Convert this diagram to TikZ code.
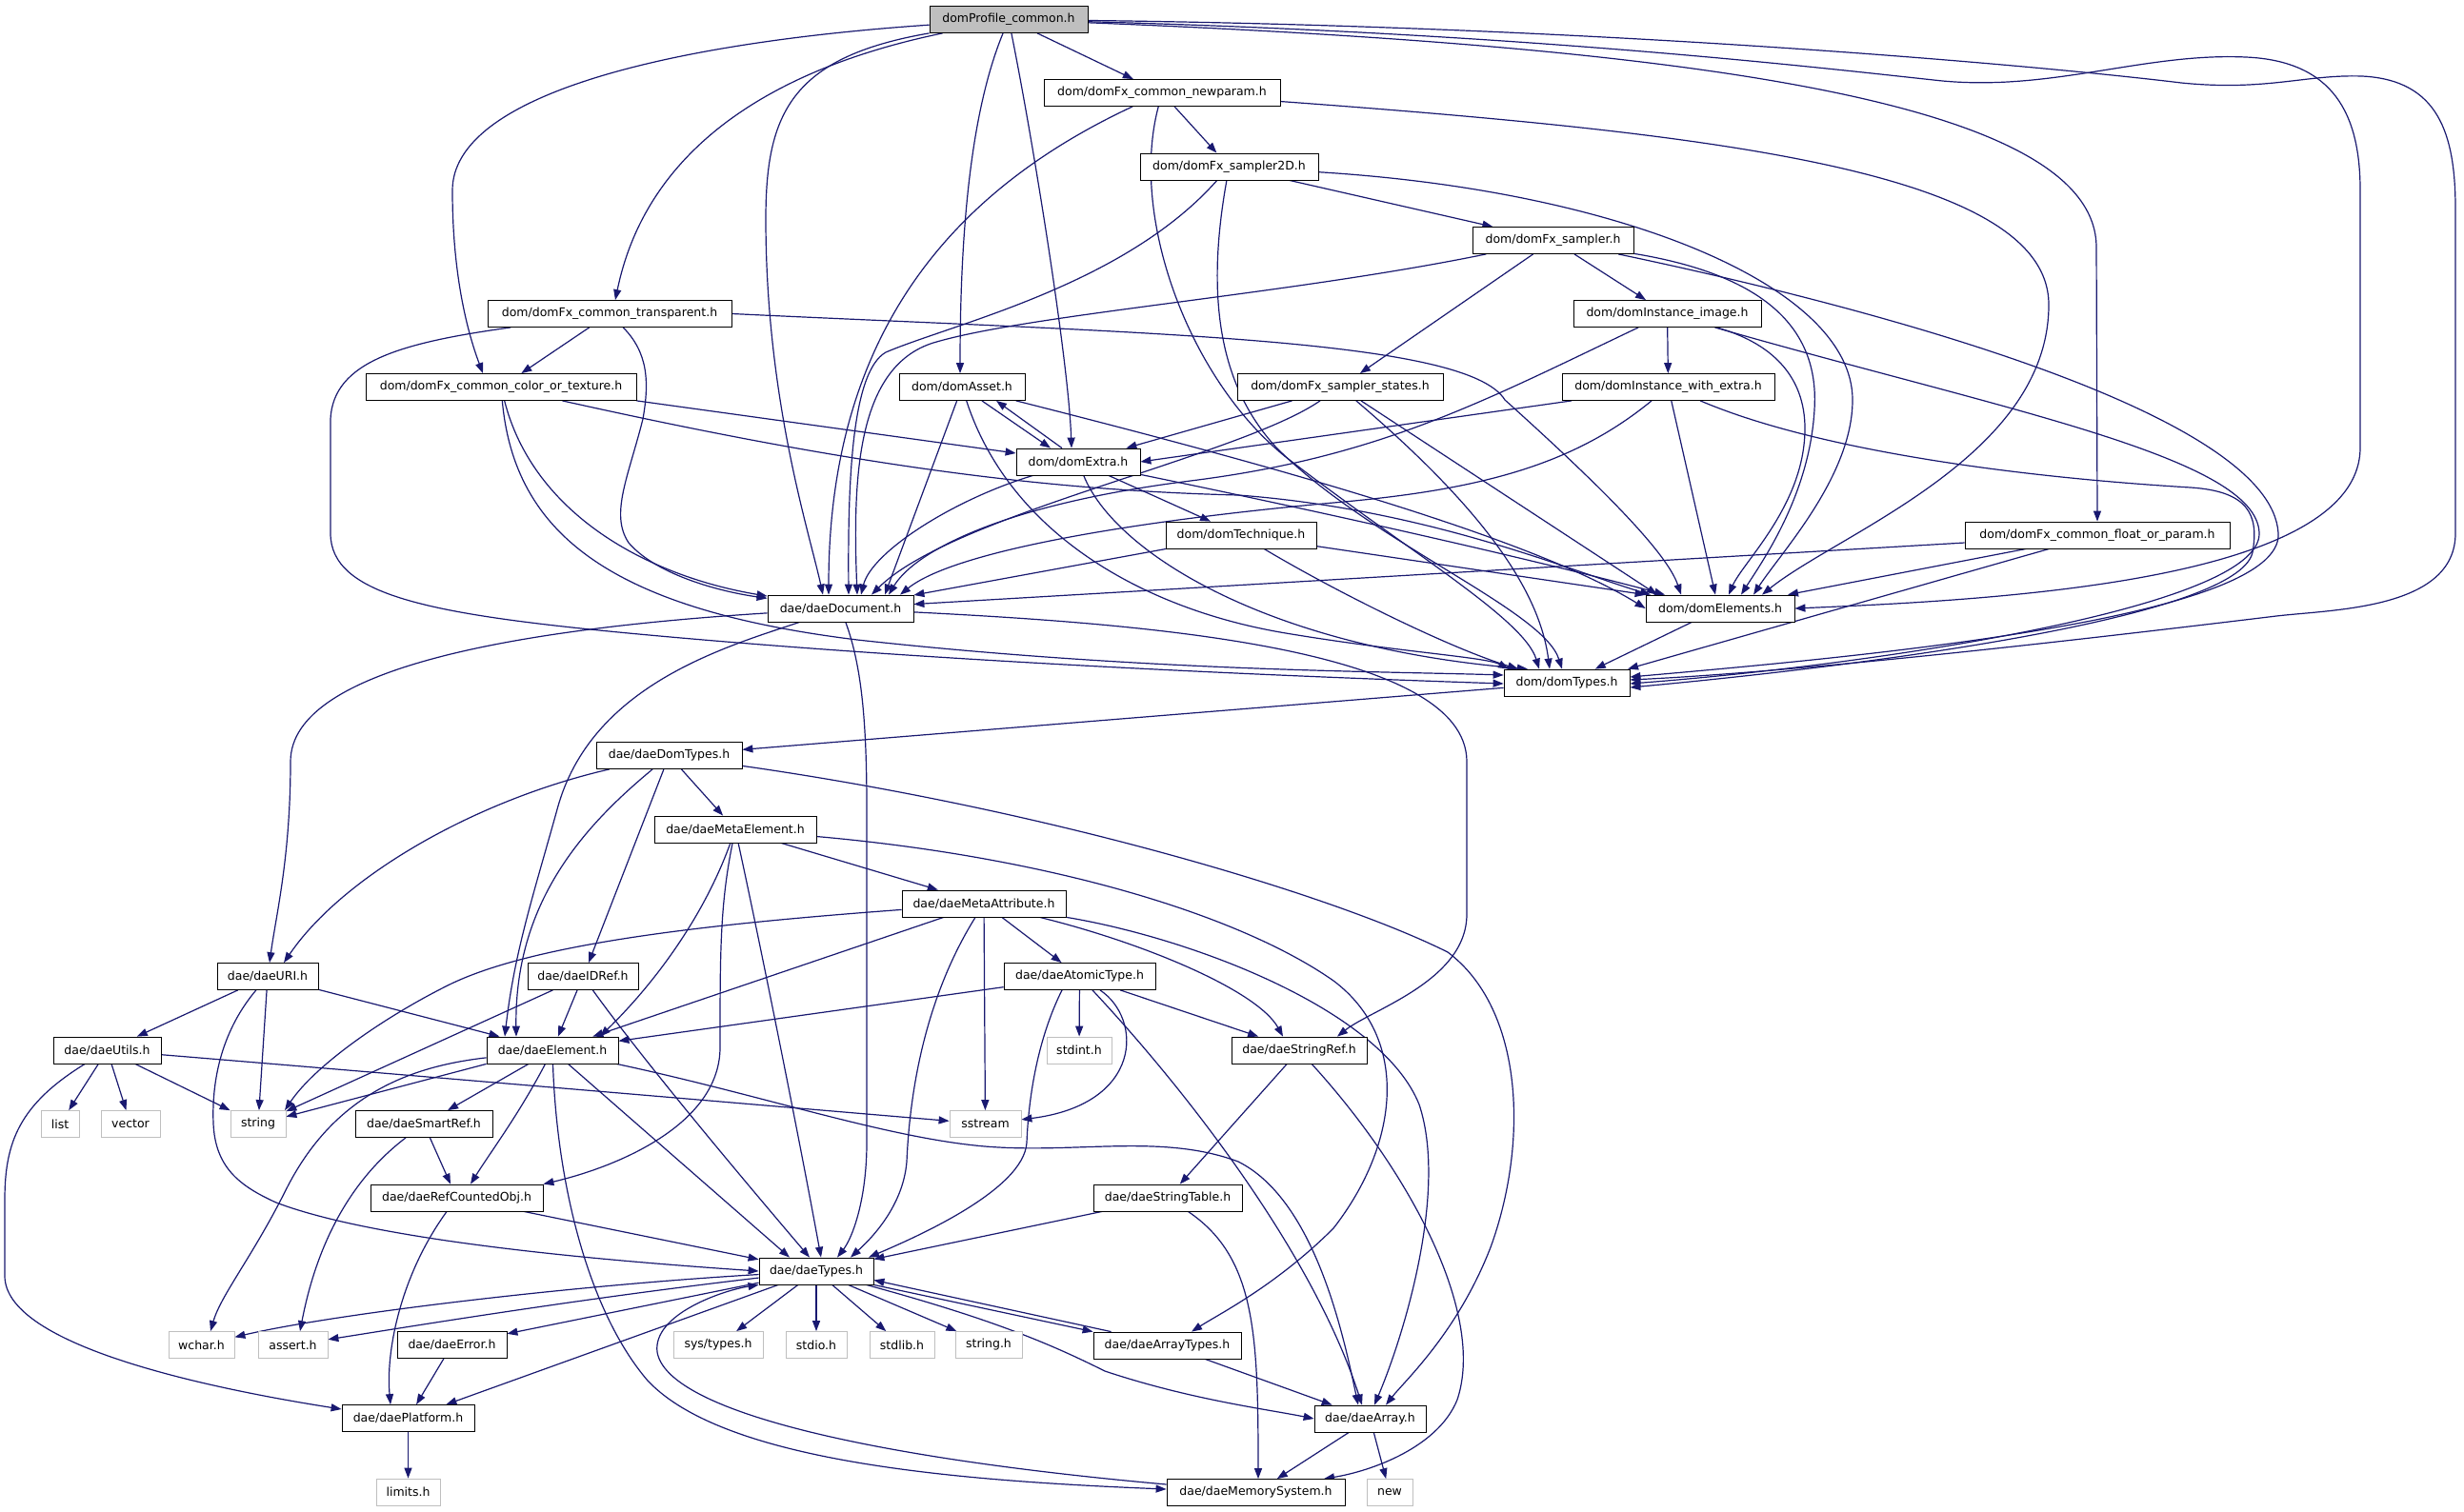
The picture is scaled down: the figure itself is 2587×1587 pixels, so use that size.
\documentclass[tikz,border=0pt]{standalone}
\usepackage{fontspec}
\newfontfamily\dvs{DejaVu Sans}
\usetikzlibrary{arrows.meta,calc,backgrounds}
\definecolor{edgec}{HTML}{191970}
\definecolor{extc}{HTML}{BFBFBF}
\definecolor{topc}{HTML}{BFBFBF}
\begin{document}
\begin{tikzpicture}[x=1pt,y=-1pt]
\tikzset{
 nb/.style={draw=black, fill=white, line width=0.8pt, minimum height=28pt, inner sep=1pt, font=\dvs\fontsize{12.5}{15}\selectfont},
 ext/.style={nb, draw=extc},
 topn/.style={nb, fill=topc},
 edg/.style={draw=edgec, line width=1.2pt, -{Triangle[length=11pt,width=8pt]}},
}
\useasboundingbox (0,0) rectangle (2587,1587);
% nodes
\node[topn, minimum width=166pt] (T) at (1059,20.5) {domProfile\_common.h};
\node[nb, minimum width=248pt] (np) at (1220,97.5) {dom/domFx\_common\_newparam.h};
\node[nb, minimum width=187pt] (s2d) at (1290.5,175) {dom/domFx\_sampler2D.h};
\node[nb, minimum width=256pt] (tr) at (640,329.5) {dom/domFx\_common\_transparent.h};
\node[nb, minimum width=284pt] (cot) at (526,406.5) {dom/domFx\_common\_color\_or\_texture.h};
\node[nb, minimum width=132pt] (as) at (1010,406.5) {dom/domAsset.h};
\node[nb, minimum width=169pt] (sa) at (1630.5,252.5) {dom/domFx\_sampler.h};
\node[nb, minimum width=197pt] (ii) at (1750.5,329.5) {dom/domInstance\_image.h};
\node[nb, minimum width=216pt] (ss) at (1407,406.5) {dom/domFx\_sampler\_states.h};
\node[nb, minimum width=223pt] (iwe) at (1751.5,406.5) {dom/domInstance\_with\_extra.h};
\node[nb, minimum width=130pt] (ex) at (1132,485) {dom/domExtra.h};
\node[nb, minimum width=158pt] (te) at (1303,562) {dom/domTechnique.h};
\node[nb, minimum width=153pt] (doc) at (882.5,639) {dae/daeDocument.h};
\node[nb, minimum width=278pt] (fop) at (2202,562) {dom/domFx\_common\_float\_or\_param.h};
\node[nb, minimum width=156pt] (el) at (1806,639) {dom/domElements.h};
\node[nb, minimum width=132pt] (dt) at (1645,717) {dom/domTypes.h};
\node[nb, minimum width=153pt] (ddt) at (702.5,793.5) {dae/daeDomTypes.h};
\node[nb, minimum width=170pt] (me) at (772,871) {dae/daeMetaElement.h};
\node[nb, minimum width=172pt] (ma) at (1033,949) {dae/daeMetaAttribute.h};
\node[nb, minimum width=106pt] (uri) at (281,1025.5) {dae/daeURI.h};
\node[nb, minimum width=116pt] (idr) at (612,1025.5) {dae/daeIDRef.h};
\node[nb, minimum width=159pt] (atom) at (1133.5,1025.5) {dae/daeAtomicType.h};
\node[nb, minimum width=113pt] (ut) at (112.5,1103) {dae/daeUtils.h};
\node[nb, minimum width=138pt] (ele) at (580,1103) {dae/daeElement.h};
\node[ext, minimum width=68pt] (stdint) at (1133,1103) {stdint.h};
\node[nb, minimum width=142pt] (sr) at (1364,1103) {dae/daeStringRef.h};
\node[ext, minimum width=40pt] (list) at (63,1180.5) {list};
\node[ext, minimum width=62pt] (vector) at (137,1180.5) {vector};
\node[ext, minimum width=58pt] (string) at (271,1180.5) {string};
\node[nb, minimum width=144pt] (smr) at (445,1180.5) {dae/daeSmartRef.h};
\node[ext, minimum width=75pt] (sstream) at (1034.5,1180.5) {sstream};
\node[nb, minimum width=181pt] (rco) at (479.5,1258) {dae/daeRefCountedObj.h};
\node[nb, minimum width=156pt] (st) at (1226,1258) {dae/daeStringTable.h};
\node[nb, minimum width=120pt] (ty) at (857,1335) {dae/daeTypes.h};
\node[ext, minimum width=69pt] (wchar) at (211.5,1412.5) {wchar.h};
\node[ext, minimum width=73pt] (assert) at (307.5,1412.5) {assert.h};
\node[nb, minimum width=115pt] (err) at (474.5,1412.5) {dae/daeError.h};
\node[ext, minimum width=94pt] (systypes) at (754,1412.5) {sys/types.h};
\node[ext, minimum width=64pt] (stdio) at (857,1412.5) {stdio.h};
\node[ext, minimum width=68pt] (stdlib) at (947,1412.5) {stdlib.h};
\node[ext, minimum width=70pt] (stringh) at (1038,1412.5) {string.h};
\node[nb, minimum width=155pt] (aty) at (1225.5,1413) {dae/daeArrayTypes.h};
\node[nb, minimum width=139pt] (pl) at (428.5,1489.5) {dae/daePlatform.h};
\node[nb, minimum width=117pt] (arr) at (1438.5,1490) {dae/daeArray.h};
\node[ext, minimum width=67pt] (limits) at (428.5,1567) {limits.h};
\node[nb, minimum width=187pt] (ms) at (1318.5,1567.5) {dae/daeMemorySystem.h};
\node[ext, minimum width=48pt] (new) at (1459,1567.5) {new};

\begin{pgfonlayer}{background}
\fill[white] (0,0) rectangle (2587,1587);
% domProfile_common.h
\draw[edg] (T) -- (np);
\draw[edg] (T) .. controls (820,70) and (680,150) .. (646,0 |- tr.north);
\draw[edg] (T) .. controls (700,45) and (475,100) .. (475,200) .. controls (475,300) and (495,360) .. (507,0 |- cot.north);
\draw[edg] (T) .. controls (830,60) and (804,120) .. (804,230) .. controls (804,420) and (850,560) .. (864,0 |- doc.north);
\draw[edg] (T) .. controls (1018,120) and (1008,250) .. (1008,0 |- as.north);
\draw[edg] (T) .. controls (1085,150) and (1122,380) .. (1125,0 |- ex.north);
\draw[edg] (T) .. controls (1800,50) and (2201,110) .. (2201,260) -- (2202,0 |- fop.north);
\draw[edg] (T) .. controls (1600,35) and (1900,70) .. (2030,84) .. controls (2150,98) and (2250,55) .. (2358,60) .. controls (2450,64) and (2478,120) .. (2478,200) -- (2478,470) .. controls (2478,610) and (2100,630) .. (el.east);
\draw[edg] (T) .. controls (1700,28) and (2150,70) .. (2290,87) .. controls (2380,96) and (2420,78) .. (2480,80) .. controls (2560,84) and (2578,140) .. (2578,220) -- (2578,560) .. controls (2578,640) and (2450,640) .. (2390,647) .. controls (2200,670) and (1900,705) .. (dt.east |- 0,714);
% newparam
\draw[edg] (np) -- (s2d);
\draw[edg] (np) .. controls (1000,200) and (870,350) .. (870,0 |- doc.north);
\draw[edg] (np) .. controls (1185,230) and (1250,400) .. (1350,480) .. controls (1480,580) and (1600,650) .. (1616,0 |- dt.north);
\draw[edg] (np) .. controls (1800,140) and (2151,180) .. (2151,320) .. controls (2151,480) and (1930,560) .. (1850,0 |- el.north);
% sampler2D
\draw[edg] (s2d) -- (sa);
\draw[edg] (s2d) .. controls (1180,300) and (1000,340) .. (930,370) .. controls (895,390) and (890,500) .. (891,0 |- doc.north);
\draw[edg] (s2d) .. controls (1268,300) and (1275,400) .. (1340,470) .. controls (1440,570) and (1620,640) .. (1640,0 |- dt.north);
\draw[edg] (s2d) .. controls (1700,200) and (1945,300) .. (1945,420) .. controls (1945,500) and (1870,580) .. (1841,0 |- el.north);
% sampler
\draw[edg] (sa) .. controls (1350,310) and (1080,330) .. (980,360) .. controls (900,385) and (895,500) .. (900,0 |- doc.north);
\draw[edg] (sa) -- (ss);
\draw[edg] (sa) -- (ii);
\draw[edg] (sa) .. controls (1860,290) and (1910,350) .. (1905,430) .. controls (1900,520) and (1850,590) .. (1828,0 |- el.north);
\draw[edg] (sa) .. controls (2000,330) and (2385,440) .. (2392,560) .. controls (2398,650) and (1950,690) .. (dt.east |- 0,711);
% instance_image
\draw[edg] (ii) -- (iwe);
\draw[edg] (ii) .. controls (1560,420) and (1450,480) .. (1250,505) .. controls (1050,530) and (960,580) .. (933,0 |- doc.north);
\draw[edg] (ii) .. controls (1860,360) and (1895,395) .. (1895,450) .. controls (1895,530) and (1830,590) .. (1815,0 |- el.north);
\draw[edg] (ii) .. controls (2100,430) and (2370,480) .. (2372,560) .. controls (2374,640) and (1950,700) .. (dt.east |- 0,718);
% instance_with_extra
\draw[edg] (iwe) -- (ex.east);
\draw[edg] (iwe) .. controls (1650,490) and (1550,515) .. (1400,528) .. controls (1180,548) and (1000,580) .. (945,0 |- doc.north);
\draw[edg] (iwe) -- (1801,0 |- el.north);
\draw[edg] (iwe) .. controls (1900,470) and (2100,500) .. (2300,512) .. controls (2360,516) and (2372,540) .. (2365,580) .. controls (2350,650) and (1950,700) .. (dt.east |- 0,722);
% sampler_states
\draw[edg] (ss) -- (ex);
\draw[edg] (ss) .. controls (1300,480) and (1000,540) .. (915,0 |- doc.north);
\draw[edg] (ss) -- (1740,0 |- el.north);
\draw[edg] (ss) .. controls (1540,520) and (1615,610) .. (1627,0 |- dt.north);
% float_or_param
\draw[edg] (fop) -- (doc);
\draw[edg] (fop) -- (1877,0 |- el.north);
\draw[edg] (fop) -- (1709,0 |- dt.north);
% domAsset
\draw[edg] (as) -- (1103,0 |- ex.north);
\draw[edg] (1115,0 |- ex.north) -- (1046,0 |- as.south);
\draw[edg] (as) -- (929,0 |- doc.north);
\draw[edg] (as) .. controls (1300,480) and (1600,560) .. (el.west);
\draw[edg] (as) .. controls (1060,560) and (1200,640) .. (1350,665) .. controls (1470,685) and (1560,690) .. (1584,0 |- dt.north);
% domExtra
\draw[edg] (ex) .. controls (1000,525) and (915,580) .. (904,0 |- doc.north);
\draw[edg] (ex) -- (te);
\draw[edg] (ex) .. controls (1400,540) and (1620,590) .. (1748,0 |- el.north);
\draw[edg] (ex) .. controls (1170,580) and (1330,680) .. (1604,0 |- dt.north);
% domTechnique
\draw[edg] (te) -- (doc);
\draw[edg] (te) -- (el.north west);
\draw[edg] (te) .. controls (1400,620) and (1520,680) .. (1594,0 |- dt.north);
% color_or_texture
\draw[edg] (cot.south east) -- (ex);
\draw[edg] (cot) .. controls (560,540) and (680,605) .. (doc);
\draw[edg] (cot) .. controls (900,490) and (1100,515) .. (1300,520) .. controls (1500,535) and (1650,600) .. (1733,0 |- el.north);
\draw[edg] (cot) .. controls (540,560) and (640,640) .. (900,672) .. controls (1200,705) and (1450,705) .. (dt.west |- 0,709);
% transparent
\draw[edg] (tr) -- (cot);
\draw[edg] (tr) .. controls (680,370) and (682,400) .. (675,440) .. controls (660,500) and (640,540) .. (660,570) .. controls (690,605) and (760,622) .. (doc);
\draw[edg] (tr) .. controls (420,360) and (350,380) .. (347,440) -- (347,560) .. controls (347,625) and (450,645) .. (660,665) .. controls (1000,697) and (1400,712) .. (dt.west |- 0,718);
\draw[edg] (tr.east) .. controls (1200,350) and (1540,355) .. (1580,420) .. controls (1680,510) and (1750,580) .. (1765,0 |- el.north);
% daeDocument
\draw[edg] (doc) .. controls (550,660) and (305,700) .. (305,800) .. controls (305,900) and (290,960) .. (uri);
\draw[edg] (doc) .. controls (760,680) and (620,720) .. (585,850) .. controls (560,940) and (540,1000) .. (530,0 |- ele.north);
\draw[edg] (doc) .. controls (905,700) and (910,760) .. (910,850) -- (910,1200) .. controls (910,1260) and (895,1300) .. (879,0 |- ty.north);
\draw[edg] (doc) .. controls (1200,655) and (1540,680) .. (1540,800) -- (1540,960) .. controls (1540,1030) and (1440,1060) .. (1404,0 |- sr.north);
% domElements, domTypes
\draw[edg] (el) -- (dt);
\draw[edg] (dt) -- (ddt);
% daeDomTypes
\draw[edg] (ddt) .. controls (500,840) and (360,920) .. (298,0 |- uri.north);
\draw[edg] (ddt) .. controls (610,870) and (540,950) .. (542,0 |- ele.north);
\draw[edg] (ddt) -- (618,0 |- idr.north);
\draw[edg] (ddt) -- (me);
\draw[edg] (ddt) .. controls (1100,850) and (1400,940) .. (1520,1000) .. controls (1600,1060) and (1605,1200) .. (1565,1310) .. controls (1530,1400) and (1475,1450) .. (1455,0 |- arr.north);
% daeMetaElement
\draw[edg] (me) -- (ma);
\draw[edg] (me) .. controls (740,960) and (690,1030) .. (630,0 |- ele.north);
\draw[edg] (me) .. controls (756,950) and (756,1000) .. (756,1100) .. controls (756,1180) and (650,1225) .. (rco.north east);
\draw[edg] (me) .. controls (800,1000) and (840,1200) .. (862,0 |- ty.north);
\draw[edg] (me) .. controls (1100,900) and (1300,960) .. (1400,1030) .. controls (1480,1090) and (1470,1200) .. (1400,1290) .. controls (1340,1350) and (1280,1380) .. (1251,0 |- aty.north);
% daeMetaAttribute
\draw[edg] (ma) .. controls (750,970) and (560,990) .. (470,1035) .. controls (400,1070) and (330,1120) .. (299,0 |- string.north);
\draw[edg] (ma) -- (ele);
\draw[edg] (ma) .. controls (970,1050) and (955,1150) .. (952,1220) .. controls (948,1270) and (910,1305) .. (893,0 |- ty.north);
\draw[edg] (ma) -- (sstream);
\draw[edg] (ma) -- (atom);
\draw[edg] (ma) .. controls (1200,990) and (1320,1040) .. (1347,0 |- sr.north);
\draw[edg] (ma) .. controls (1250,985) and (1450,1060) .. (1490,1160) .. controls (1520,1250) and (1475,1400) .. (1443,0 |- arr.north);
% daeAtomicType
\draw[edg] (atom) -- (ele);
\draw[edg] (atom) -- (stdint);
\draw[edg] (atom) .. controls (1200,1070) and (1200,1160) .. (sstream);
\draw[edg] (1115,0 |- atom.south) .. controls (1090,1090) and (1080,1150) .. (1078,1200) .. controls (1075,1250) and (960,1300) .. (912,0 |- ty.north);
\draw[edg] (atom) -- (sr);
\draw[edg] (atom) .. controls (1250,1150) and (1380,1320) .. (1430,0 |- arr.north);
% daeURI
\draw[edg] (uri) -- (ut);
\draw[edg] (uri) -- (string);
\draw[edg] (uri) -- (ele);
\draw[edg] (uri) .. controls (235,1080) and (222,1130) .. (224,1180) .. controls (226,1225) and (250,1245) .. (290,1263) .. controls (400,1305) and (650,1325) .. (ty.west);
% daeIDRef
\draw[edg] (idr) -- (string);
\draw[edg] (idr) -- (ele);
\draw[edg] (idr) .. controls (680,1120) and (790,1250) .. (850,0 |- ty.north);
% daeUtils
\draw[edg] (ut) -- (list);
\draw[edg] (ut) -- (vector);
\draw[edg] (ut) -- (string);
\draw[edg] (ut) .. controls (500,1135) and (850,1165) .. (sstream);
\draw[edg] (ut) .. controls (20,1160) and (5,1200) .. (5,1260) -- (5,1340) .. controls (5,1410) and (200,1455) .. (pl.west |- 0,1480);
% daeElement
\draw[edg] (ele.south west) -- (string);
\draw[edg] (ele) .. controls (430,1120) and (350,1150) .. (300,1250) .. controls (265,1320) and (232,1360) .. (221,0 |- wchar.north);
\draw[edg] (ele) -- (smr);
\draw[edg] (ele) .. controls (545,1170) and (515,1210) .. (494,0 |- rco.north);
\draw[edg] (ele) -- (829,0 |- ty.north);
\draw[edg] (ele) .. controls (585,1250) and (620,1380) .. (680,1450) .. controls (760,1535) and (1000,1555) .. (ms.west |- 0,1564);
\draw[edg] (ele) .. controls (800,1150) and (930,1195) .. (1034,1204) .. controls (1130,1212) and (1220,1190) .. (1300,1220) .. controls (1380,1260) and (1410,1400) .. (1426,0 |- arr.north);
% daeSmartRef
\draw[edg] (smr) -- (473,0 |- rco.north);
\draw[edg] (smr) .. controls (360,1245) and (330,1320) .. (315,0 |- assert.north);
% daeRefCountedObj
\draw[edg] (rco) -- (ty);
\draw[edg] (rco) .. controls (420,1340) and (405,1420) .. (410,0 |- pl.north);
% daeStringTable
\draw[edg] (st) -- (ty);
\draw[edg] (st) .. controls (1318,1320) and (1321,1400) .. (1321,0 |- ms.north);
% daeStringRef
\draw[edg] (sr) -- (st);
\draw[edg] (sr) .. controls (1480,1230) and (1560,1380) .. (1530,1470) .. controls (1510,1520) and (1440,1545) .. (1390,0 |- ms.north);
% daeTypes
\draw[edg] (ty) .. controls (600,1350) and (350,1380) .. (wchar);
\draw[edg] (ty) .. controls (600,1365) and (420,1395) .. (assert);
\draw[edg] (ty) -- (err);
\draw[edg] (ty) -- (pl);
\draw[edg] (ty) -- (systypes);
\draw[edg] (ty) -- (stdio);
\draw[edg] (ty) -- (stdlib);
\draw[edg] (ty) -- (stringh);
\draw[edg] (ty.south east) -- (aty.north west);
\draw[edg] ($(aty.north west)+(19,0)$) -- ($(ty.south east)+(0,-5)$);
\draw[edg] (ty) .. controls (1040,1385) and (1100,1410) .. (1160,1440) .. controls (1250,1470) and (1330,1480) .. (arr.west);
% daeMemorySystem
\draw[edg] (ms.west |- 0,1559) .. controls (900,1530) and (700,1480) .. (690,1420) .. controls (685,1380) and (760,1355) .. (ty.south west);
% others
\draw[edg] (aty) -- (arr);
\draw[edg] (arr) -- (ms);
\draw[edg] (arr) -- (new);
\draw[edg] (err) -- (pl);
\draw[edg] (pl) -- (limits);
\end{pgfonlayer}
\end{tikzpicture}
\end{document}
